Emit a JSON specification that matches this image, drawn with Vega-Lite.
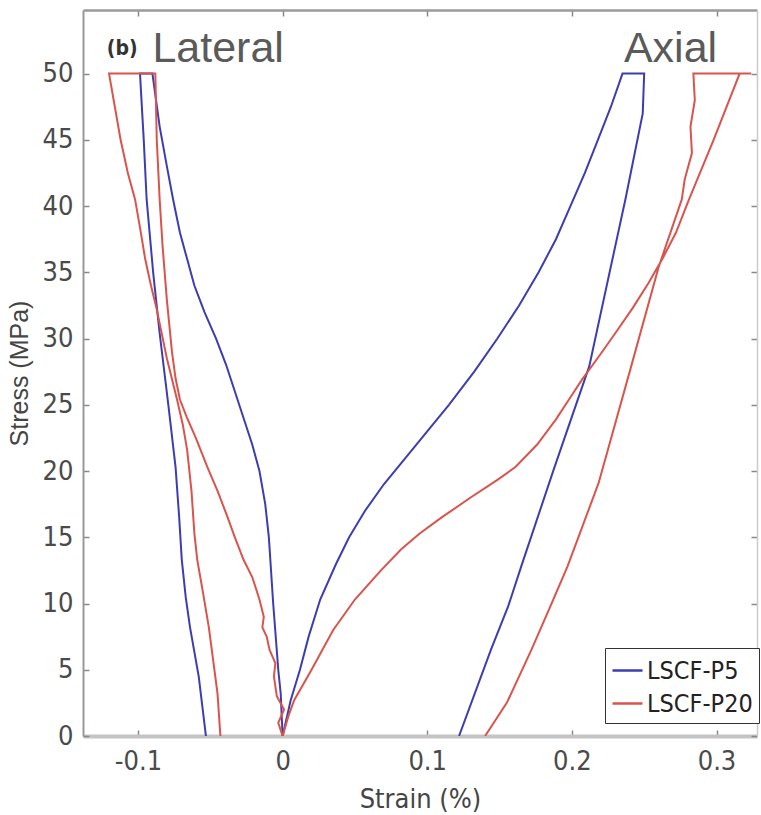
{
  "$schema": "https://vega.github.io/schema/vega-lite/v6.json",
  "width": 674,
  "height": 726,
  "autosize": "none",
  "padding": {"left": 83, "top": 10, "right": 4, "bottom": 79},
  "background": "white",
  "config": {
    "view": {"stroke": null},
    "axis": {"grid": false, "labelFont": "Liberation Sans Narrow, DejaVu Sans Condensed, sans-serif", "labelColor": "#4a4a4a", "titleFont": "Liberation Sans Narrow, DejaVu Sans Condensed, sans-serif", "titleColor": "#454545", "titleFontWeight": "normal", "tickColor": "#888", "domainColor": "#999"}
  },
  "datasets": {
    "curves": [
      {"s": "LSCF-P5", "part": "lat", "o": 1, "x": 0, "y": 0},
      {"s": "LSCF-P5", "part": "lat", "o": 2, "x": -0.0013, "y": 3.2},
      {"s": "LSCF-P5", "part": "lat", "o": 3, "x": -0.003, "y": 5},
      {"s": "LSCF-P5", "part": "lat", "o": 4, "x": -0.0065, "y": 10},
      {"s": "LSCF-P5", "part": "lat", "o": 5, "x": -0.0095, "y": 15},
      {"s": "LSCF-P5", "part": "lat", "o": 6, "x": -0.012, "y": 17.5},
      {"s": "LSCF-P5", "part": "lat", "o": 7, "x": -0.016, "y": 20},
      {"s": "LSCF-P5", "part": "lat", "o": 8, "x": -0.021, "y": 22},
      {"s": "LSCF-P5", "part": "lat", "o": 9, "x": -0.027, "y": 24},
      {"s": "LSCF-P5", "part": "lat", "o": 10, "x": -0.033, "y": 26},
      {"s": "LSCF-P5", "part": "lat", "o": 11, "x": -0.039, "y": 28},
      {"s": "LSCF-P5", "part": "lat", "o": 12, "x": -0.046, "y": 30},
      {"s": "LSCF-P5", "part": "lat", "o": 13, "x": -0.054, "y": 32},
      {"s": "LSCF-P5", "part": "lat", "o": 14, "x": -0.061, "y": 34},
      {"s": "LSCF-P5", "part": "lat", "o": 15, "x": -0.066, "y": 36},
      {"s": "LSCF-P5", "part": "lat", "o": 16, "x": -0.071, "y": 38},
      {"s": "LSCF-P5", "part": "lat", "o": 17, "x": -0.0757, "y": 40.5},
      {"s": "LSCF-P5", "part": "lat", "o": 18, "x": -0.08, "y": 43},
      {"s": "LSCF-P5", "part": "lat", "o": 19, "x": -0.085, "y": 46},
      {"s": "LSCF-P5", "part": "lat", "o": 20, "x": -0.09, "y": 50},
      {"s": "LSCF-P5", "part": "lat", "o": 21, "x": -0.0986, "y": 50},
      {"s": "LSCF-P5", "part": "lat", "o": 22, "x": -0.096, "y": 45},
      {"s": "LSCF-P5", "part": "lat", "o": 23, "x": -0.094, "y": 40.5},
      {"s": "LSCF-P5", "part": "lat", "o": 24, "x": -0.0895, "y": 35},
      {"s": "LSCF-P5", "part": "lat", "o": 25, "x": -0.085, "y": 30.4},
      {"s": "LSCF-P5", "part": "lat", "o": 26, "x": -0.079, "y": 25},
      {"s": "LSCF-P5", "part": "lat", "o": 27, "x": -0.074, "y": 20.3},
      {"s": "LSCF-P5", "part": "lat", "o": 28, "x": -0.0715, "y": 16.5},
      {"s": "LSCF-P5", "part": "lat", "o": 29, "x": -0.0697, "y": 13.3},
      {"s": "LSCF-P5", "part": "lat", "o": 30, "x": -0.067, "y": 10.5},
      {"s": "LSCF-P5", "part": "lat", "o": 31, "x": -0.064, "y": 8.2},
      {"s": "LSCF-P5", "part": "lat", "o": 32, "x": -0.058, "y": 4.5},
      {"s": "LSCF-P5", "part": "lat", "o": 33, "x": -0.053, "y": 0},

      {"s": "LSCF-P5", "part": "ax", "o": 1, "x": 0, "y": 0},
      {"s": "LSCF-P5", "part": "ax", "o": 2, "x": 0.0056, "y": 2.7},
      {"s": "LSCF-P5", "part": "ax", "o": 3, "x": 0.012, "y": 5},
      {"s": "LSCF-P5", "part": "ax", "o": 4, "x": 0.018, "y": 7.5},
      {"s": "LSCF-P5", "part": "ax", "o": 5, "x": 0.026, "y": 10.3},
      {"s": "LSCF-P5", "part": "ax", "o": 6, "x": 0.037, "y": 13},
      {"s": "LSCF-P5", "part": "ax", "o": 7, "x": 0.046, "y": 15},
      {"s": "LSCF-P5", "part": "ax", "o": 8, "x": 0.057, "y": 17},
      {"s": "LSCF-P5", "part": "ax", "o": 9, "x": 0.07, "y": 19},
      {"s": "LSCF-P5", "part": "ax", "o": 10, "x": 0.085, "y": 21},
      {"s": "LSCF-P5", "part": "ax", "o": 11, "x": 0.1, "y": 23},
      {"s": "LSCF-P5", "part": "ax", "o": 12, "x": 0.115, "y": 25},
      {"s": "LSCF-P5", "part": "ax", "o": 13, "x": 0.1325, "y": 27.5},
      {"s": "LSCF-P5", "part": "ax", "o": 14, "x": 0.1485, "y": 30},
      {"s": "LSCF-P5", "part": "ax", "o": 15, "x": 0.1635, "y": 32.5},
      {"s": "LSCF-P5", "part": "ax", "o": 16, "x": 0.177, "y": 35},
      {"s": "LSCF-P5", "part": "ax", "o": 17, "x": 0.189, "y": 37.5},
      {"s": "LSCF-P5", "part": "ax", "o": 18, "x": 0.199, "y": 40},
      {"s": "LSCF-P5", "part": "ax", "o": 19, "x": 0.209, "y": 42.5},
      {"s": "LSCF-P5", "part": "ax", "o": 20, "x": 0.218, "y": 45},
      {"s": "LSCF-P5", "part": "ax", "o": 21, "x": 0.227, "y": 47.5},
      {"s": "LSCF-P5", "part": "ax", "o": 22, "x": 0.235, "y": 50},
      {"s": "LSCF-P5", "part": "ax", "o": 23, "x": 0.25, "y": 50},
      {"s": "LSCF-P5", "part": "ax", "o": 24, "x": 0.249, "y": 47},
      {"s": "LSCF-P5", "part": "ax", "o": 25, "x": 0.237, "y": 40.5},
      {"s": "LSCF-P5", "part": "ax", "o": 26, "x": 0.212, "y": 27.9},
      {"s": "LSCF-P5", "part": "ax", "o": 27, "x": 0.188, "y": 20.3},
      {"s": "LSCF-P5", "part": "ax", "o": 28, "x": 0.165, "y": 12.8},
      {"s": "LSCF-P5", "part": "ax", "o": 29, "x": 0.156, "y": 9.8},
      {"s": "LSCF-P5", "part": "ax", "o": 30, "x": 0.144, "y": 6.5},
      {"s": "LSCF-P5", "part": "ax", "o": 31, "x": 0.122, "y": 0},

      {"s": "LSCF-P20", "part": "lat", "o": 1, "x": 0, "y": 0},
      {"s": "LSCF-P20", "part": "lat", "o": 2, "x": -0.003, "y": 1},
      {"s": "LSCF-P20", "part": "lat", "o": 3, "x": 0.001, "y": 2},
      {"s": "LSCF-P20", "part": "lat", "o": 4, "x": -0.004, "y": 3},
      {"s": "LSCF-P20", "part": "lat", "o": 5, "x": -0.006, "y": 4.5},
      {"s": "LSCF-P20", "part": "lat", "o": 6, "x": -0.005, "y": 5.5},
      {"s": "LSCF-P20", "part": "lat", "o": 7, "x": -0.009, "y": 6.5},
      {"s": "LSCF-P20", "part": "lat", "o": 8, "x": -0.011, "y": 7.5},
      {"s": "LSCF-P20", "part": "lat", "o": 9, "x": -0.014, "y": 8.2},
      {"s": "LSCF-P20", "part": "lat", "o": 10, "x": -0.013, "y": 9},
      {"s": "LSCF-P20", "part": "lat", "o": 11, "x": -0.016, "y": 10.3},
      {"s": "LSCF-P20", "part": "lat", "o": 12, "x": -0.021, "y": 12},
      {"s": "LSCF-P20", "part": "lat", "o": 13, "x": -0.027, "y": 13.3},
      {"s": "LSCF-P20", "part": "lat", "o": 14, "x": -0.033, "y": 15},
      {"s": "LSCF-P20", "part": "lat", "o": 15, "x": -0.038, "y": 16.5},
      {"s": "LSCF-P20", "part": "lat", "o": 16, "x": -0.045, "y": 18.5},
      {"s": "LSCF-P20", "part": "lat", "o": 17, "x": -0.052, "y": 20.3},
      {"s": "LSCF-P20", "part": "lat", "o": 18, "x": -0.06, "y": 22.5},
      {"s": "LSCF-P20", "part": "lat", "o": 19, "x": -0.066, "y": 24},
      {"s": "LSCF-P20", "part": "lat", "o": 20, "x": -0.071, "y": 25.4},
      {"s": "LSCF-P20", "part": "lat", "o": 21, "x": -0.074, "y": 27},
      {"s": "LSCF-P20", "part": "lat", "o": 22, "x": -0.0765, "y": 29},
      {"s": "LSCF-P20", "part": "lat", "o": 23, "x": -0.08, "y": 32.9},
      {"s": "LSCF-P20", "part": "lat", "o": 24, "x": -0.083, "y": 37},
      {"s": "LSCF-P20", "part": "lat", "o": 25, "x": -0.085, "y": 40.5},
      {"s": "LSCF-P20", "part": "lat", "o": 26, "x": -0.087, "y": 45},
      {"s": "LSCF-P20", "part": "lat", "o": 27, "x": -0.088, "y": 50},
      {"s": "LSCF-P20", "part": "lat", "o": 28, "x": -0.12, "y": 50},
      {"s": "LSCF-P20", "part": "lat", "o": 29, "x": -0.116, "y": 47.5},
      {"s": "LSCF-P20", "part": "lat", "o": 30, "x": -0.112, "y": 45},
      {"s": "LSCF-P20", "part": "lat", "o": 31, "x": -0.107, "y": 42.5},
      {"s": "LSCF-P20", "part": "lat", "o": 32, "x": -0.102, "y": 40.5},
      {"s": "LSCF-P20", "part": "lat", "o": 33, "x": -0.098, "y": 38},
      {"s": "LSCF-P20", "part": "lat", "o": 34, "x": -0.095, "y": 36},
      {"s": "LSCF-P20", "part": "lat", "o": 35, "x": -0.091, "y": 34},
      {"s": "LSCF-P20", "part": "lat", "o": 36, "x": -0.087, "y": 32.2},
      {"s": "LSCF-P20", "part": "lat", "o": 37, "x": -0.08, "y": 28.5},
      {"s": "LSCF-P20", "part": "lat", "o": 38, "x": -0.073, "y": 25.4},
      {"s": "LSCF-P20", "part": "lat", "o": 39, "x": -0.069, "y": 23.5},
      {"s": "LSCF-P20", "part": "lat", "o": 40, "x": -0.066, "y": 21.6},
      {"s": "LSCF-P20", "part": "lat", "o": 41, "x": -0.063, "y": 18.5},
      {"s": "LSCF-P20", "part": "lat", "o": 42, "x": -0.061, "y": 15.3},
      {"s": "LSCF-P20", "part": "lat", "o": 43, "x": -0.059, "y": 13.3},
      {"s": "LSCF-P20", "part": "lat", "o": 44, "x": -0.055, "y": 10.8},
      {"s": "LSCF-P20", "part": "lat", "o": 45, "x": -0.051, "y": 8.2},
      {"s": "LSCF-P20", "part": "lat", "o": 46, "x": -0.048, "y": 5.7},
      {"s": "LSCF-P20", "part": "lat", "o": 47, "x": -0.045, "y": 3.2},
      {"s": "LSCF-P20", "part": "lat", "o": 48, "x": -0.043, "y": 0},

      {"s": "LSCF-P20", "part": "ax", "o": 1, "x": 0, "y": 0},
      {"s": "LSCF-P20", "part": "ax", "o": 2, "x": 0.004, "y": 1.5},
      {"s": "LSCF-P20", "part": "ax", "o": 3, "x": 0.008, "y": 2.7},
      {"s": "LSCF-P20", "part": "ax", "o": 4, "x": 0.02, "y": 5},
      {"s": "LSCF-P20", "part": "ax", "o": 5, "x": 0.035, "y": 8},
      {"s": "LSCF-P20", "part": "ax", "o": 6, "x": 0.05, "y": 10.3},
      {"s": "LSCF-P20", "part": "ax", "o": 7, "x": 0.068, "y": 12.5},
      {"s": "LSCF-P20", "part": "ax", "o": 8, "x": 0.082, "y": 14.1},
      {"s": "LSCF-P20", "part": "ax", "o": 9, "x": 0.095, "y": 15.3},
      {"s": "LSCF-P20", "part": "ax", "o": 10, "x": 0.11, "y": 16.5},
      {"s": "LSCF-P20", "part": "ax", "o": 11, "x": 0.13, "y": 18},
      {"s": "LSCF-P20", "part": "ax", "o": 12, "x": 0.148, "y": 19.3},
      {"s": "LSCF-P20", "part": "ax", "o": 13, "x": 0.161, "y": 20.3},
      {"s": "LSCF-P20", "part": "ax", "o": 14, "x": 0.176, "y": 22},
      {"s": "LSCF-P20", "part": "ax", "o": 15, "x": 0.189, "y": 23.9},
      {"s": "LSCF-P20", "part": "ax", "o": 16, "x": 0.198, "y": 25.4},
      {"s": "LSCF-P20", "part": "ax", "o": 17, "x": 0.207, "y": 26.9},
      {"s": "LSCF-P20", "part": "ax", "o": 18, "x": 0.219, "y": 28.7},
      {"s": "LSCF-P20", "part": "ax", "o": 19, "x": 0.23, "y": 30.4},
      {"s": "LSCF-P20", "part": "ax", "o": 20, "x": 0.242, "y": 32.3},
      {"s": "LSCF-P20", "part": "ax", "o": 21, "x": 0.253, "y": 34.2},
      {"s": "LSCF-P20", "part": "ax", "o": 22, "x": 0.263, "y": 36.1},
      {"s": "LSCF-P20", "part": "ax", "o": 23, "x": 0.272, "y": 38},
      {"s": "LSCF-P20", "part": "ax", "o": 24, "x": 0.281, "y": 40.5},
      {"s": "LSCF-P20", "part": "ax", "o": 25, "x": 0.298, "y": 45},
      {"s": "LSCF-P20", "part": "ax", "o": 26, "x": 0.316, "y": 50},
      {"s": "LSCF-P20", "part": "ax", "o": 27, "x": 0.324, "y": 50},
      {"s": "LSCF-P20", "part": "ax", "o": 28, "x": 0.284, "y": 50},
      {"s": "LSCF-P20", "part": "ax", "o": 29, "x": 0.285, "y": 48},
      {"s": "LSCF-P20", "part": "ax", "o": 30, "x": 0.282, "y": 46},
      {"s": "LSCF-P20", "part": "ax", "o": 31, "x": 0.283, "y": 44},
      {"s": "LSCF-P20", "part": "ax", "o": 32, "x": 0.278, "y": 42},
      {"s": "LSCF-P20", "part": "ax", "o": 33, "x": 0.276, "y": 40.5},
      {"s": "LSCF-P20", "part": "ax", "o": 34, "x": 0.26, "y": 35.4},
      {"s": "LSCF-P20", "part": "ax", "o": 35, "x": 0.241, "y": 27.9},
      {"s": "LSCF-P20", "part": "ax", "o": 36, "x": 0.2185, "y": 19.1},
      {"s": "LSCF-P20", "part": "ax", "o": 37, "x": 0.197, "y": 12.8},
      {"s": "LSCF-P20", "part": "ax", "o": 38, "x": 0.184, "y": 9.5},
      {"s": "LSCF-P20", "part": "ax", "o": 39, "x": 0.172, "y": 6.5},
      {"s": "LSCF-P20", "part": "ax", "o": 40, "x": 0.155, "y": 2.5},
      {"s": "LSCF-P20", "part": "ax", "o": 41, "x": 0.14, "y": 0}
    ],
    "labels": [
      {"t": "Lateral", "x": -0.09, "y": 50.9},
      {"t": "Axial", "x": 0.236, "y": 50.9}
    ],
    "panel": [
      {"t": "(b)", "x": -0.1215, "y": 51.4}
    ]
  },
  "layer": [
    {
      "data": {"name": "curves"},
      "mark": {"type": "line", "strokeWidth": 2, "clip": true},
      "encoding": {
        "x": {"field": "x", "type": "quantitative", "scale": {"domain": [-0.138, 0.328], "nice": false, "zero": false},
          "axis": {"orient": "bottom", "values": [-0.1, 0, 0.1, 0.2, 0.3], "labelExpr": "replace(format(datum.value, '~g'), '\u2212', '-')", "title": "Strain (%)", "titleFontSize": 27, "titlePadding": 12, "labelFontSize": 27, "labelPadding": 18, "tickSize": -6, "domainColor": "#c4c4c4", "domainWidth": 4, "tickWidth": 1.5}},
        "y": {"field": "y", "type": "quantitative", "scale": {"domain": [0, 54.8], "nice": false},
          "axis": {"orient": "left", "values": [0, 5, 10, 15, 20, 25, 30, 35, 40, 45, 50], "title": "Stress (MPa)", "titleFont": "Liberation Sans, sans-serif", "titleFontSize": 25, "titlePadding": 10, "labelFontSize": 27, "labelPadding": 16, "tickSize": -6, "domainWidth": 2, "tickWidth": 1.5}},
        "color": {"field": "s", "type": "nominal", "scale": {"domain": ["LSCF-P5", "LSCF-P20"], "range": ["#3d3db2", "#d9544c"]},
          "legend": {"orient": "none", "legendX": 522, "legendY": 638, "title": null, "symbolType": "stroke", "symbolSize": 900, "symbolStrokeWidth": 2.5, "labelFont": "Liberation Sans Narrow, DejaVu Sans Condensed, sans-serif", "labelFontSize": 25, "labelColor": "#222", "labelOffset": 3, "rowPadding": 3, "padding": 6, "strokeColor": "#333", "fillColor": "white", "cornerRadius": 0}},
        "detail": {"field": "part"},
        "order": {"field": "o", "type": "quantitative"}
      }
    },
    {
      "data": {"name": "labels"},
      "mark": {"type": "text", "align": "left", "baseline": "alphabetic", "font": "Liberation Sans, sans-serif", "fontSize": 43, "color": "#5a5a5a"},
      "encoding": {
        "x": {"field": "x", "type": "quantitative", "axis": {"orient": "top", "labels": false, "title": null, "values": [-0.1, 0, 0.1, 0.2, 0.3], "tickSize": -6, "domainWidth": 2.5, "domainColor": "#9a9a9a", "tickWidth": 1.5}},
        "y": {"field": "y", "type": "quantitative", "axis": {"orient": "right", "labels": false, "title": null, "values": [0, 5, 10, 15, 20, 25, 30, 35, 40, 45, 50], "tickSize": -6, "domainWidth": 1.5, "domainColor": "#cccccc", "tickWidth": 1.5}},
        "text": {"field": "t"}
      }
    },
    {
      "data": {"name": "panel"},
      "mark": {"type": "text", "align": "left", "baseline": "alphabetic", "font": "Liberation Sans Narrow, DejaVu Sans Condensed, sans-serif", "fontSize": 21, "fontWeight": "bold", "color": "#333"},
      "encoding": {
        "x": {"field": "x", "type": "quantitative", "axis": null},
        "y": {"field": "y", "type": "quantitative", "axis": null},
        "text": {"field": "t"}
      }
    }
  ],
  "resolve": {"axis": {"x": "independent", "y": "independent"}}
}
